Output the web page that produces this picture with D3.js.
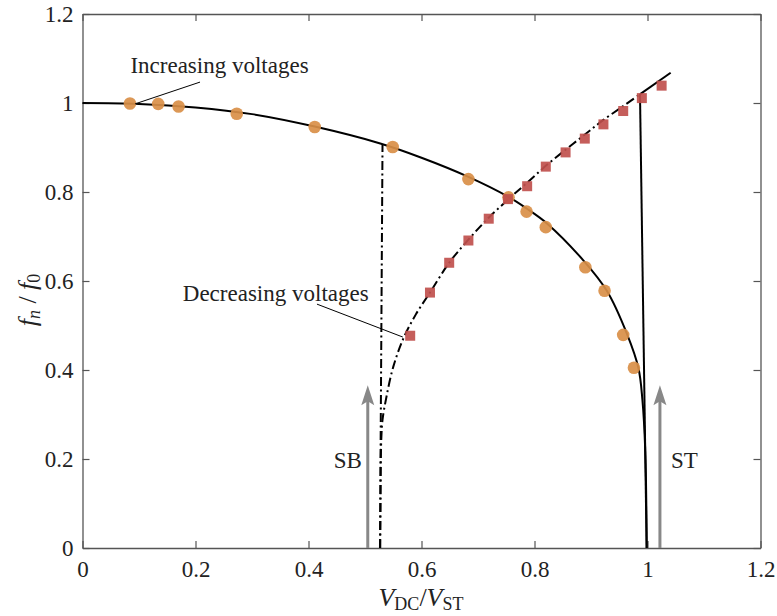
<html>
  <head>
    <script src="https://d3js.org/d3.v7.min.js"></script>
  </head>
  <style>
  body{ margin:0; background:#fff; }
  text{ font-family: "Liberation Serif", "DejaVu Serif", serif; fill:#222; }
  </style>
  <body>
    <svg id="chart" width="777" height="616"></svg>
    <script>
    // DATA
    const xTicks = [0, 0.2, 0.4, 0.6, 0.8, 1, 1.2];
    const xTickLabels = ["0", "0.2", "0.4", "0.6", "0.8", "1", "1.2"];
    const yTicks = [0, 0.2, 0.4, 0.6, 0.8, 1, 1.2];
    const yTickLabels = ["0", "0.2", "0.4", "0.6", "0.8", "1", "1.2"];

    // measured, increasing voltages (circles)
    const incX = [0.084, 0.134, 0.170, 0.273, 0.411, 0.549, 0.683, 0.754, 0.786, 0.820, 0.890, 0.924, 0.957, 0.976];
    const incY = [0.999, 0.998, 0.992, 0.976, 0.946, 0.901, 0.829, 0.788, 0.756, 0.721, 0.631, 0.578, 0.479, 0.405];

    // measured, decreasing voltages (squares)
    const decX = [0.580, 0.615, 0.649, 0.683, 0.719, 0.753, 0.787, 0.820, 0.855, 0.889, 0.922, 0.957, 0.990, 1.025];
    const decY = [0.477, 0.574, 0.641, 0.691, 0.740, 0.784, 0.813, 0.857, 0.889, 0.920, 0.952, 0.982, 1.011, 1.039];

    // model, stable branch (solid)
    const upX = [0, 0.1, 0.2, 0.3, 0.411, 0.527, 0.6, 0.683, 0.754, 0.786, 0.8215, 0.886, 0.928, 0.964, 0.984, 0.991, 0.996, 0.9986];
    const upY = [1.0, 0.998, 0.99, 0.975, 0.947, 0.909, 0.877, 0.834, 0.789, 0.763, 0.730, 0.647, 0.578, 0.480, 0.404, 0.333, 0.22, 0];

    // model, snap-back branch (dash-dot)
    const dnX = [0.527, 0.5275, 0.528, 0.529, 0.531, 0.538, 0.550, 0.568, 0.59, 0.615, 0.649, 0.683, 0.718, 0.754, 0.788, 0.822, 0.857, 0.892, 0.922, 0.957, 0.987];
    const dnY = [0.0, 0.1, 0.2, 0.25, 0.288, 0.34, 0.407, 0.471, 0.525, 0.574, 0.641, 0.693, 0.741, 0.784, 0.822, 0.861, 0.897, 0.932, 0.962, 0.993, 1.02];

    // solid continuation above snap-through and the jump line
    const topX = [0.987, 1.041];
    const topY = [1.02, 1.068];
    const jumpX = [0.9985, 0.9867];
    const jumpY = [0, 1.02];

    // dash-dot jump at snap-back
    const sbX = [0.5265, 0.531];
    const sbY = [0, 0.906];

    // arrows: SB and ST
    const arrowNames = ["SB", "ST"];
    const arrowX = [0.5049, 1.022];
    const arrowTop = 0.366;

    const svg = d3.select("#chart");
    const mLeft = 82.5, mRight = 760.5, mTop = 14, mBottom = 548;

    const x = d3.scaleLinear().domain([0, 1.2]).range([mLeft, mRight]);
    const y = d3.scaleLinear().domain([0, 1.2]).range([mBottom, mTop]);

    const zip = (a, b) => a.map((v, i) => [v, b[i]]);
    const line = d3.line().x(d => x(d[0])).y(d => y(d[1]));
    const smooth = d3.line().x(d => x(d[0])).y(d => y(d[1])).curve(d3.curveCatmullRom.alpha(0.5));

    // AXES
    const axisColor = "#555";
    const fs = 23;
    const gx = svg.append("g").attr("transform", "translate(0," + mBottom + ")")
      .call(d3.axisBottom(x).tickValues(xTicks).tickFormat((d, i) => xTickLabels[i])
        .tickSizeInner(-7).tickSizeOuter(0).tickPadding(13));
    const gy = svg.append("g").attr("transform", "translate(" + mLeft + ",0)")
      .call(d3.axisLeft(y).tickValues(yTicks).tickFormat((d, i) => yTickLabels[i])
        .tickSizeInner(-7).tickSizeOuter(0).tickPadding(9));
    const gt = svg.append("g").attr("transform", "translate(0," + mTop + ")")
      .call(d3.axisTop(x).tickValues(xTicks).tickFormat("").tickSizeInner(-7).tickSizeOuter(0));
    const gr = svg.append("g").attr("transform", "translate(" + mRight + ",0)")
      .call(d3.axisRight(y).tickValues(yTicks).tickFormat("").tickSizeInner(-7).tickSizeOuter(0));
    [gx, gy, gt, gr].forEach(g => {
      g.select(".domain").attr("stroke", axisColor).attr("stroke-width", 1.3);
      g.selectAll(".tick line").attr("stroke", axisColor).attr("stroke-width", 1.2);
      g.selectAll(".tick text").attr("font-family", "Liberation Serif").attr("font-size", fs).attr("fill", "#222");
    });

    // AXIS LABELS
    const xl = svg.append("text").attr("x", 421).attr("y", 606).attr("text-anchor", "middle")
      .attr("font-size", 26);
    xl.append("tspan").attr("font-style", "italic").text("V");
    xl.append("tspan").attr("font-size", 18).attr("dy", 4).text("DC");
    xl.append("tspan").attr("dy", -4).text("/");
    xl.append("tspan").attr("font-style", "italic").text("V");
    xl.append("tspan").attr("font-size", 18).attr("dy", 4).text("ST");

    const yl = svg.append("text").attr("transform", "translate(36,300) rotate(-90)")
      .attr("text-anchor", "middle").attr("font-size", 26);
    yl.append("tspan").attr("font-style", "italic").text("f");
    yl.append("tspan").attr("font-style", "italic").attr("font-size", 18).attr("dy", 4).text("n");
    yl.append("tspan").attr("dy", -4).text(" / ");
    yl.append("tspan").attr("font-style", "italic").text("f");
    yl.append("tspan").attr("font-size", 18).attr("dy", 4).text("0");

    // ARROWS
    const grey = "#888";
    arrowX.forEach((ax, i) => {
      svg.append("line").attr("x1", x(ax)).attr("x2", x(ax))
        .attr("y1", y(0)).attr("y2", y(arrowTop) + 14)
        .attr("stroke", grey).attr("stroke-width", 3);
      const tx = x(ax), ty = y(arrowTop);
      svg.append("path")
        .attr("d", "M" + tx + "," + ty + "L" + (tx - 6.5) + "," + (ty + 20) + "L" + tx + "," + (ty + 16) + "L" + (tx + 6.5) + "," + (ty + 20) + "Z")
        .attr("fill", grey);
      svg.append("text").attr("x", i === 0 ? x(ax) - 6 : x(ax) + 11).attr("y", 468)
        .attr("text-anchor", i === 0 ? "end" : "start").attr("font-size", fs)
        .text(arrowNames[i]);
    });

    // MODEL CURVES
    const dashdot = "9,3.5,2,3.5";
    svg.append("path").datum(zip(upX, upY)).attr("d", smooth)
      .attr("fill", "none").attr("stroke", "#000").attr("stroke-width", 2);
    svg.append("path").datum(zip(dnX, dnY)).attr("d", smooth)
      .attr("fill", "none").attr("stroke", "#000").attr("stroke-width", 2).attr("stroke-dasharray", dashdot);
    svg.append("path").datum(zip(sbX, sbY)).attr("d", line)
      .attr("fill", "none").attr("stroke", "#000").attr("stroke-width", 2).attr("stroke-dasharray", dashdot);
    svg.append("path").datum(zip(topX, topY)).attr("d", line)
      .attr("fill", "none").attr("stroke", "#000").attr("stroke-width", 2);
    svg.append("path").datum(zip(jumpX, jumpY)).attr("d", line)
      .attr("fill", "none").attr("stroke", "#000").attr("stroke-width", 2);

    // MARKERS
    svg.append("g").selectAll("circle").data(zip(incX, incY)).enter().append("circle")
      .attr("cx", d => x(d[0])).attr("cy", d => y(d[1])).attr("r", 6.3)
      .attr("fill", "#d98f48").attr("fill-opacity", 0.92);
    svg.append("g").selectAll("rect").data(zip(decX, decY)).enter().append("rect")
      .attr("x", d => x(d[0]) - 5).attr("y", d => y(d[1]) - 5).attr("width", 10).attr("height", 10)
      .attr("fill", "#c0504d").attr("fill-opacity", 0.92);

    // ANNOTATIONS
    const notes = ["Increasing voltages", "Decreasing voltages"];
    const noteX = [0.2425, 0.342];
    const noteY = [1.067, 0.555];
    const leadX = [[0.208, 0.093], [0.415, 0.567]];
    const leadY = [[1.047, 0.998], [0.548, 0.474]];
    notes.forEach((t, i) => {
      svg.append("text").attr("x", x(noteX[i])).attr("y", y(noteY[i]))
        .attr("text-anchor", "middle").attr("font-size", fs).text(t);
      svg.append("path").datum(zip(leadX[i], leadY[i])).attr("d", line)
        .attr("stroke", "#000").attr("stroke-width", 1).attr("fill", "none");
    });
    </script>
  </body>
</html>
